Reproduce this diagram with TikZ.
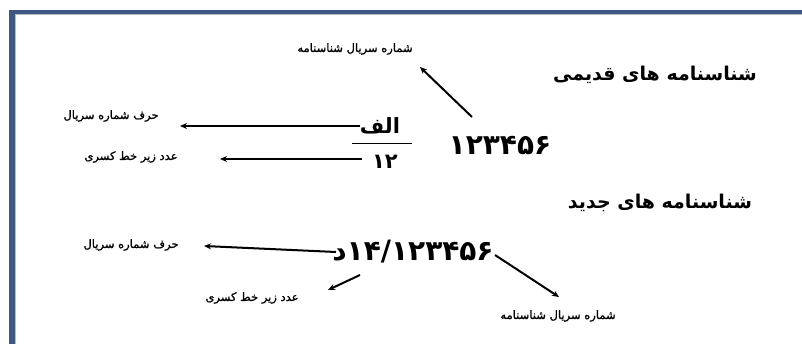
\documentclass[tikz,border=0pt]{standalone}
\usepackage{fontspec}
\usetikzlibrary{arrows.meta}
\TeXXeTstate=1
\newfontfamily\fa[Script=Arabic,FakeBold=1.2]{DejaVu Sans}
\newfontfamily\fab[Script=Arabic]{DejaVu Sans Bold}
\definecolor{frameblue}{RGB}{62,88,130}
\begin{document}
\begin{tikzpicture}[x=1pt,y=-1pt,
  title/.style={inner sep=0pt,font=\fab\fontsize{19}{23}\selectfont},
  lbl/.style={inner sep=0pt,font=\fa\fontsize{11.5}{13}\selectfont},
  big/.style={inner sep=0pt,font=\fab\fontsize{28}{32}\selectfont},
  mid/.style={inner sep=0pt,font=\fab\fontsize{21}{26}\selectfont},
  arr/.style={line width=2pt,-{Stealth[length=7pt,width=6pt]}}]
\useasboundingbox (0,0) rectangle (802,344);
\fill[white] (0,0) rectangle (802,344);
% frame
\fill[frameblue] (9,10) rectangle (802,14.5);
\fill[frameblue] (9,10) rectangle (15,344);
\fill[frameblue!40] (15,14.5) rectangle (802,15.5);
\fill[frameblue!40] (15,14.5) rectangle (16,344);
% old IDs
\node[title] (t1) at (655,75) {\beginR شناسنامه های قدیمی\endR};
\node[lbl] (l1) at (355,49) {\beginR شماره سریال شناسنامه\endR};
\node[big] (n1) at (500,146) {۱۲۳۴۵۶};
\node[mid] (alef) at (380,126) {\beginR الف\endR};
\node[mid] (d12) at (385,162) {۱۲};
\coordinate (fl) at (352,144);
\coordinate (fr) at (412,144);
\draw[line width=1pt] (fl) -- (fr);
\node[lbl] (l2) at (111,116) {\beginR حرف شماره سریال\endR};
\node[lbl] (l3) at (131,157) {\beginR عدد زیر خط کسری\endR};
\coordinate (a1s) at (472,117);
\coordinate (a1e) at (420,67);
\draw[arr] (a1s) -- (a1e);
\coordinate (a2s) at (360,126);
\coordinate (a2e) at (180,126);
\draw[arr] (a2s) -- (a2e);
\coordinate (a3s) at (362,159);
\coordinate (a3e) at (220,159);
\draw[arr] (a3s) -- (a3e);
% new IDs
\node[title] (t2) at (660,203) {\beginR شناسنامه های جدید\endR};
\node[big] (n2) at (413,252) {\mbox{د}\mbox{۱۴/۱۲۳۴۵۶}};
\node[lbl] (l4) at (131,245) {\beginR حرف شماره سریال\endR};
\node[lbl] (l5) at (252,298) {\beginR عدد زیر خط کسری\endR};
\node[lbl] (l6) at (558,316) {\beginR شماره سریال شناسنامه\endR};
\coordinate (b1s) at (336,252);
\coordinate (b1e) at (204,246);
\draw[arr] (b1s) -- (b1e);
\coordinate (b2s) at (360,275);
\coordinate (b2e) at (328,290);
\draw[arr] (b2s) -- (b2e);
\coordinate (b3s) at (495,255);
\coordinate (b3e) at (559,297);
\draw[arr] (b3s) -- (b3e);
\end{tikzpicture}
\end{document}
